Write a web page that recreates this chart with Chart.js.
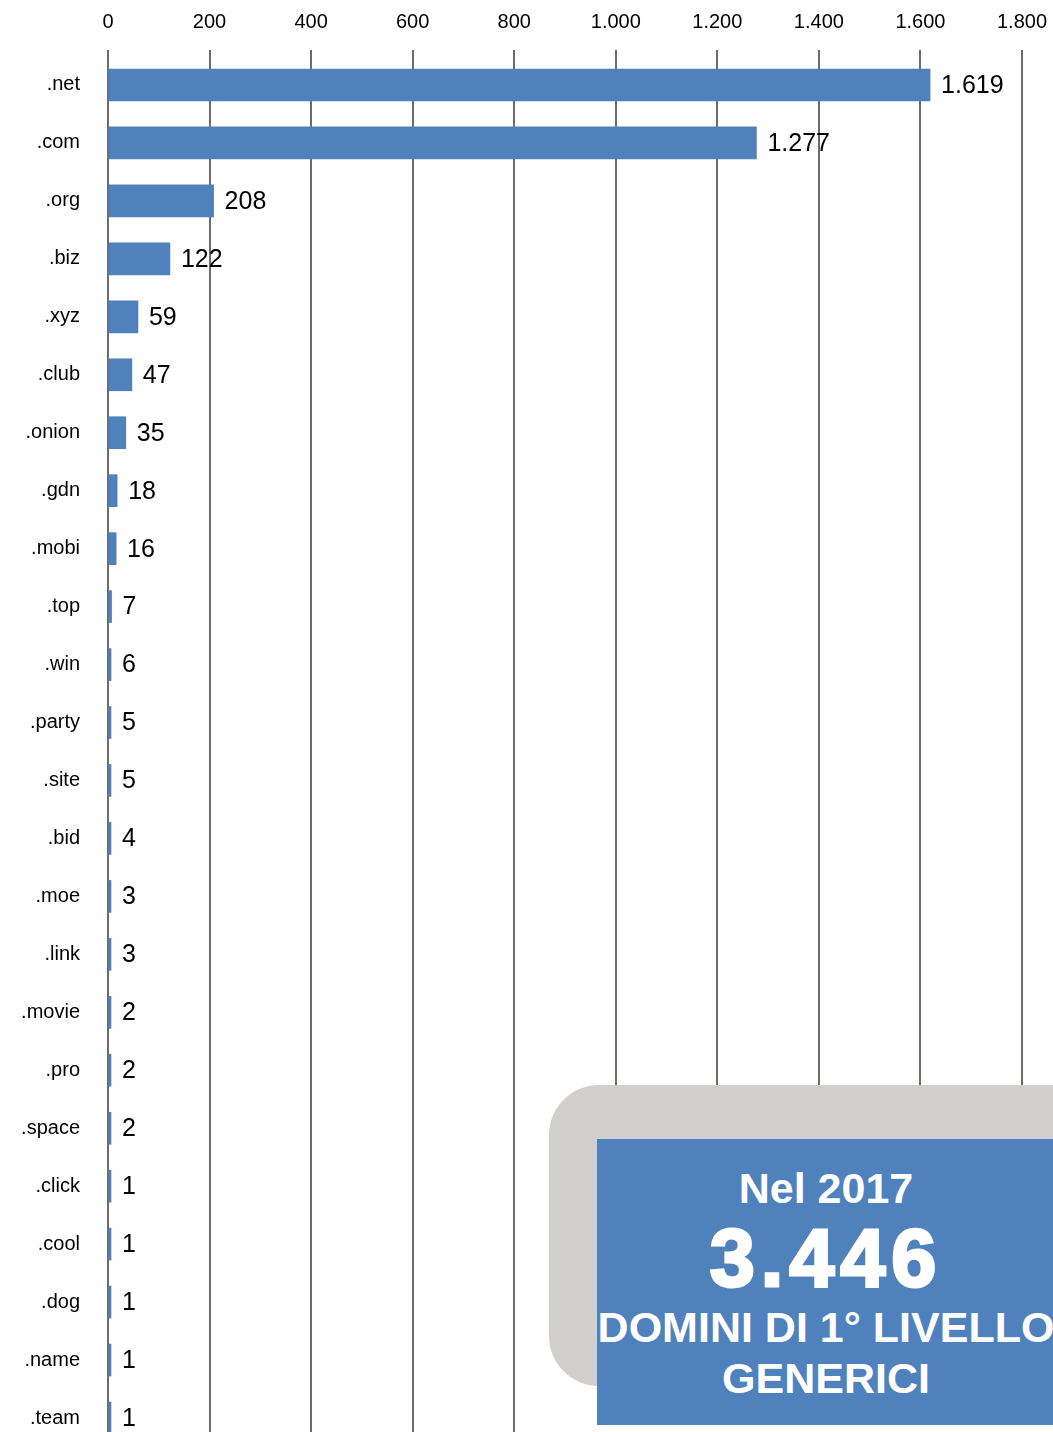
<!DOCTYPE html>
<html>
<head>
<meta charset="utf-8">
<script src="https://cdn.jsdelivr.net/npm/chart.js@4/dist/chart.umd.min.js"></script>
<style>
  html, body { margin: 0; padding: 0; background: #fff; overflow: hidden; }
  #wrap { position: relative; width: 1053px; height: 1432px; overflow: hidden; }
  #box { position: absolute; left: 0; top: 0; width: 1053px; height: 1450px; }
  .gray { position: absolute; left: 549px; top: 1085px; width: 560px; height: 301px; background: #d0cfcd; border-radius: 50px; }
  .blue { position: absolute; left: 597px; top: 1139px; width: 460px; height: 286px; background: #4f81bd; }
  .white { position: absolute; left: 560px; top: 1425px; width: 500px; height: 20px; background: #fff; }
  .t { position: absolute; left: 597px; width: 458px; text-align: center; color: #fff; font-family: "Liberation Sans", Arial, Helvetica, sans-serif; font-weight: bold; white-space: nowrap; }
</style>
</head>
<body>
<div id="wrap">
  <div id="box"><canvas id="c"></canvas></div>
  <div class="gray"></div>
  <div class="blue"></div>
  <div class="white"></div>
  <div class="t" style="top:1163px;font-size:43px;line-height:50px;">Nel 2017</div>
  <div class="t" style="top:1213px;font-size:81px;line-height:90px;letter-spacing:6px;-webkit-text-stroke:3px #fff;">3.446</div>
  <div class="t" style="top:1302px;font-size:43px;line-height:50px;">DOMINI DI 1° LIVELLO</div>
  <div class="t" style="top:1353px;font-size:43px;line-height:50px;">GENERICI</div>
</div>
<script>
const categories = [".net", ".com", ".org", ".biz", ".xyz", ".club", ".onion", ".gdn", ".mobi", ".top", ".win", ".party", ".site", ".bid", ".moe", ".link", ".movie", ".pro", ".space", ".click", ".cool", ".dog", ".name", ".team"];
const values = [1619, 1277, 208, 122, 59, 47, 35, 18, 16, 7, 6, 5, 5, 4, 3, 3, 2, 2, 2, 1, 1, 1, 1, 1];
const axisMin = 0;
const axisMax = 1800;
const axisStep = 200;

function fmt(n) {
  return String(n).replace(/\B(?=(\d{3})+(?!\d))/g, ".");
}

const FONT = '"Liberation Sans", Arial, Helvetica, sans-serif';
const GRID = '#6e6c69';

const valueLabels = {
  id: 'valueLabels',
  afterDatasetsDraw(chart) {
    const ctx = chart.ctx;
    const meta = chart.getDatasetMeta(0);
    ctx.save();
    ctx.font = '25px ' + FONT;
    ctx.fillStyle = '#000';
    ctx.textAlign = 'left';
    ctx.textBaseline = 'middle';
    meta.data.forEach((bar, i) => {
      ctx.fillText(fmt(chart.data.datasets[0].data[i]), bar.x + 11, bar.y + 1);
    });
    ctx.restore();
  }
};

new Chart(document.getElementById('c'), {
  type: 'bar',
  data: {
    labels: categories,
    datasets: [{
      data: values,
      backgroundColor: '#4f81bd',
      borderWidth: 0,
      barThickness: 32,
      minBarLength: 3
    }]
  },
  options: {
    indexAxis: 'y',
    responsive: true,
    maintainAspectRatio: false,
    devicePixelRatio: 1,
    animation: false,
    layout: { autoPadding: false, padding: { left: 0, right: 31, top: 0, bottom: 3 } },
    plugins: { legend: { display: false }, tooltip: { enabled: false } },
    scales: {
      x: {
        position: 'top',
        min: axisMin,
        max: axisMax,
        ticks: {
          stepSize: axisStep,
          color: '#000',
          font: { family: FONT, size: 20 },
          padding: 16,
          maxRotation: 0,
          callback: v => fmt(v)
        },
        grid: { color: GRID, lineWidth: 2, tickLength: 6, drawTicks: true },
        border: { display: false },
        afterFit: s => { s.height = 56; s.paddingLeft = 0; s.paddingRight = 0; }
      },
      y: {
        z: 1,
        ticks: {
          color: '#000',
          font: { family: FONT, size: 20 },
          padding: 28,
          autoSkip: false
        },
        grid: { display: false, drawTicks: false },
        border: { display: true, color: GRID, width: 2 },
        afterFit: s => { s.width = 108; s.paddingTop = 0; s.paddingBottom = 0; }
      }
    }
  },
  plugins: [valueLabels]
});
</script>
</body>
</html>
